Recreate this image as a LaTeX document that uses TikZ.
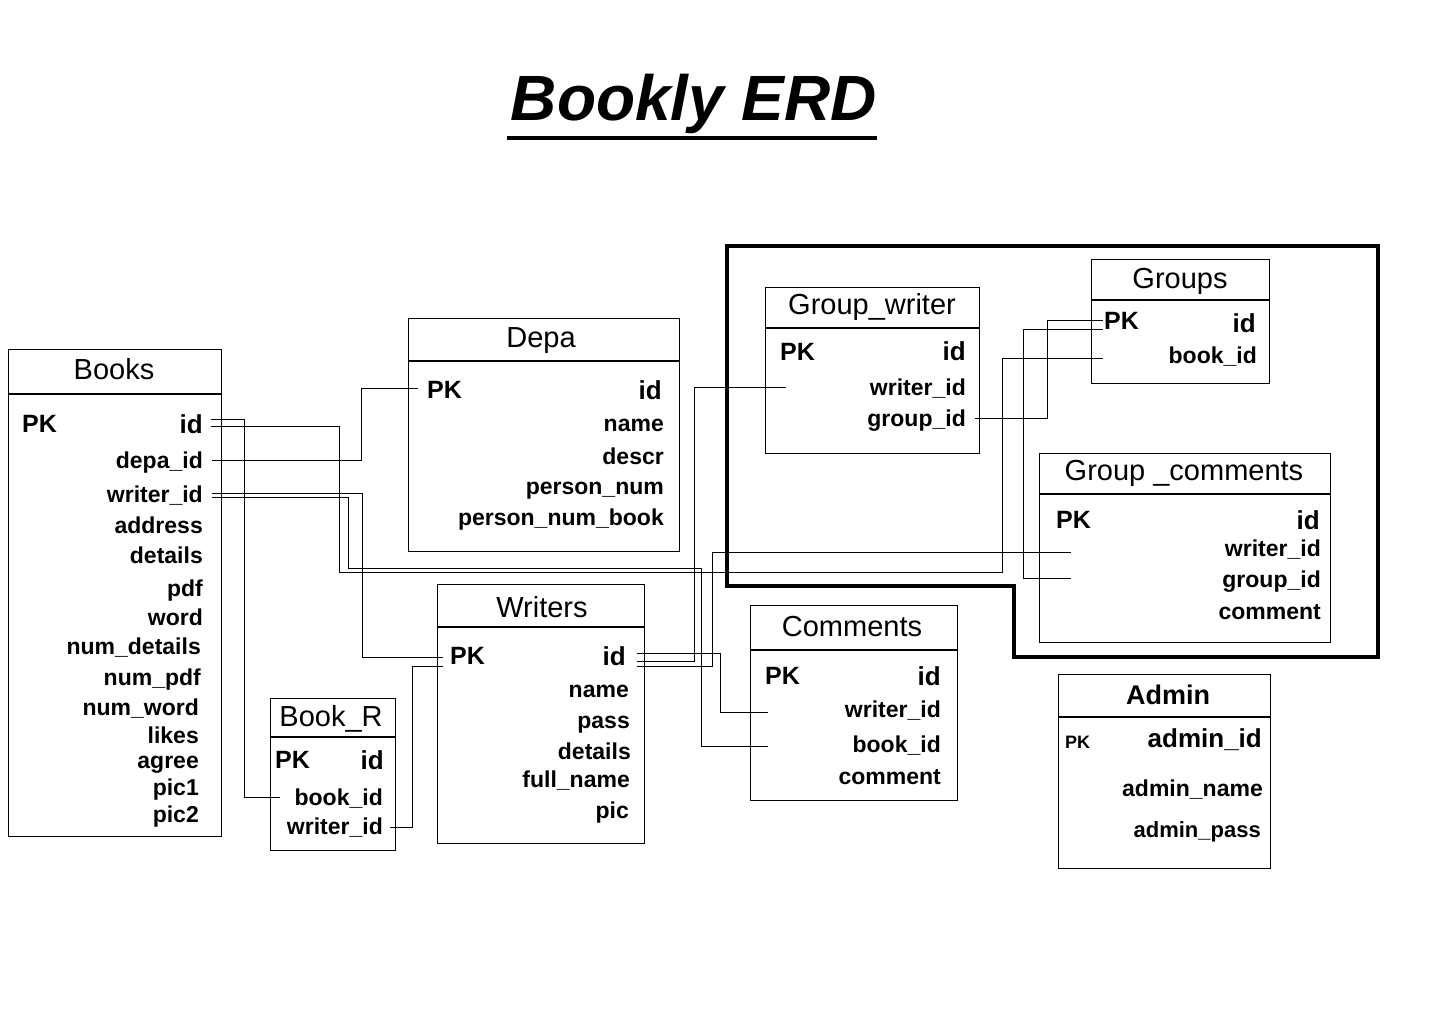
\documentclass[tikz,border=0pt]{standalone}
\usepackage{fontspec}
\setmainfont{Liberation Sans}
\begin{document}
\begin{tikzpicture}[x=1pt,y=-1pt,
	tbl/.style={draw,line width=1.2pt,inner sep=0pt,anchor=north west},
	ttl/.style={font=\fontsize{29}{32}\selectfont,inner sep=0pt,anchor=mid,yshift=-7pt},
	pkf/.style={font=\fontsize{25}{28}\selectfont\bfseries,anchor=mid west,inner sep=0pt,yshift=-5pt},
	idf/.style={font=\fontsize{26}{28}\selectfont\bfseries,anchor=mid east,inner sep=0pt,yshift=-5pt},
	fld/.style={font=\fontsize{23}{25}\selectfont\bfseries,anchor=mid east,inner sep=0pt,yshift=-5pt},
	link/.style={line width=1pt}]
	\fill[white] (0,0) rectangle (1440,1027);
	\useasboundingbox (0,0) rectangle (1440,1027);

	% title
	\node[inner sep=0pt,font=\fontsize{64}{70}\selectfont\bfseries\itshape] (title) at (694,104) {Bookly ERD};
	\draw[line width=4.5pt] (title.south west) ++(-4,4) -- ++(370,0);

	% Books
	\node[tbl,minimum width=213pt,minimum height=487pt] (books) at (8,349) {};
	\draw[line width=1.2pt] (books.north west) ++(0,45) -- ++(213,0);
	\node[ttl] (books-t) at (114,370) {Books};
	\node[pkf] (books-pk) at (22,425) {PK};
	\node[idf] (books-id) at (203,426) {id};
	\node[fld] (books-depa) at (203,461) {depa\_id};
	\node[fld] (books-writer) at (203,495) {writer\_id};
	\node[fld] (books-address) at (203,526) {address};
	\node[fld] (books-details) at (203,556) {details};
	\node[fld] (books-pdf) at (203,589) {pdf};
	\node[fld] (books-word) at (203,618) {word};
	\node[fld] (books-numdetails) at (201,647) {num\_details};
	\node[fld] (books-numpdf) at (201,678) {num\_pdf};
	\node[fld] (books-numword) at (199,708) {num\_word};
	\node[fld] (books-likes) at (199,736) {likes};
	\node[fld] (books-agree) at (199,761) {agree};
	\node[fld] (books-pic1) at (199,788) {pic1};
	\node[fld] (books-pic2) at (199,815) {pic2};

	% Depa
	\node[tbl,minimum width=271pt,minimum height=233pt] (depa) at (408,318) {};
	\draw[line width=1.2pt] (depa.north west) ++(0,43) -- ++(271,0);
	\node[ttl] (depa-t) at (541,338) {Depa};
	\node[pkf] (depa-pk) at (427,391) {PK};
	\node[idf] (depa-id) at (662,392) {id};
	\node[fld] (depa-name) at (664,424) {name};
	\node[fld] (depa-descr) at (664,457) {descr};
	\node[fld] (depa-pnum) at (664,487) {person\_num};
	\node[fld] (depa-pnumbook) at (664,518) {person\_num\_book};

	% Writers
	\node[tbl,minimum width=207pt,minimum height=259pt] (writers) at (437,584) {};
	\draw[line width=1.2pt] (writers.north west) ++(0,43) -- ++(207,0);
	\node[ttl] (writers-t) at (542,608) {Writers};
	\node[pkf] (writers-pk) at (450,657) {PK};
	\node[idf] (writers-id) at (626,658) {id};
	\node[fld] (writers-name) at (629,690) {name};
	\node[fld] (writers-pass) at (630,721) {pass};
	\node[fld] (writers-details) at (631,752) {details};
	\node[fld] (writers-fullname) at (630,780) {full\_name};
	\node[fld] (writers-pic) at (629,811) {pic};

	% Book_R
	\node[tbl,minimum width=125pt,minimum height=152pt] (bookr) at (270,698) {};
	\draw[line width=1.2pt] (bookr.north west) ++(0,39) -- ++(125,0);
	\node[ttl] (bookr-t) at (331,717) {Book\_R};
	\node[pkf] (bookr-pk) at (275,761) {PK};
	\node[idf] (bookr-id) at (384,762) {id};
	\node[fld] (bookr-book) at (383,798) {book\_id};
	\node[fld] (bookr-writer) at (383,827) {writer\_id};

	% Comments
	\node[tbl,minimum width=207pt,minimum height=195pt] (comments) at (750,605) {};
	\draw[line width=1.2pt] (comments.north west) ++(0,45) -- ++(207,0);
	\node[ttl] (comments-t) at (852,627) {Comments};
	\node[pkf] (comments-pk) at (765,677) {PK};
	\node[idf] (comments-id) at (941,678) {id};
	\node[fld] (comments-writer) at (941,710) {writer\_id};
	\node[fld] (comments-book) at (941,745) {book\_id};
	\node[fld] (comments-comment) at (941,777) {comment};

	% Group_writer
	\node[tbl,minimum width=214pt,minimum height=166pt] (gwriter) at (765,287) {};
	\draw[line width=1.2pt] (gwriter.north west) ++(0,41) -- ++(214,0);
	\node[ttl] (gwriter-t) at (872,305) {Group\_writer};
	\node[pkf] (gwriter-pk) at (780,353) {PK};
	\node[idf] (gwriter-id) at (966,353) {id};
	\node[fld] (gwriter-writer) at (966,388) {writer\_id};
	\node[fld] (gwriter-group) at (966,419) {group\_id};

	% Groups
	\node[tbl,minimum width=178pt,minimum height=124pt] (groups) at (1091,259) {};
	\draw[line width=1.2pt] (groups.north west) ++(0,41) -- ++(178,0);
	\node[ttl] (groups-t) at (1180,279) {Groups};
	\node[pkf] (groups-pk) at (1104,322) {PK};
	\node[idf] (groups-id) at (1256,325) {id};
	\node[fld] (groups-book) at (1257,356) {book\_id};

	% Group_comments
	\node[tbl,minimum width=291pt,minimum height=189pt] (gcomments) at (1039,453) {};
	\draw[line width=1.2pt] (gcomments.north west) ++(0,41) -- ++(291,0);
	\node[ttl] (gcomments-t) at (1184,471) {Group \_comments};
	\node[pkf] (gcomments-pk) at (1056,521) {PK};
	\node[idf] (gcomments-id) at (1320,522) {id};
	\node[fld] (gcomments-writer) at (1321,549) {writer\_id};
	\node[fld] (gcomments-group) at (1321,580) {group\_id};
	\node[fld] (gcomments-comment) at (1321,612) {comment};

	% Admin
	\node[tbl,minimum width=212pt,minimum height=194pt] (admin) at (1058,674) {};
	\draw[line width=1.2pt] (admin.north west) ++(0,43) -- ++(212,0);
	\node[ttl,font=\fontsize{27}{30}\selectfont\bfseries] (admin-t) at (1168,695) {Admin};
	\node[pkf,font=\fontsize{18}{20}\selectfont\bfseries] (admin-pk) at (1065,741) {PK};
	\node[idf] (admin-id) at (1262,740) {admin\_id};
	\node[fld,font=\fontsize{23}{25}\selectfont\bfseries] (admin-name) at (1263,789) {admin\_name};
	\node[fld,font=\fontsize{22}{24}\selectfont\bfseries] (admin-pass) at (1261,830) {admin\_pass};

	% group frame
	\draw[line width=4.5pt] (727,246) -- (1378,246) -- (1378,657) -- (1014,657) -- (1014,586) -- (727,586) -- cycle;

	% link ends
	\coordinate (a-books-id1) at (211,419);
	\coordinate (a-books-id2) at (211,426);
	\coordinate (a-books-depa) at (212,460);
	\coordinate (a-books-wr1) at (212,493);
	\coordinate (a-books-wr2) at (212,497);
	\coordinate (a-bookr-book) at (280,797);
	\coordinate (a-bookr-wr) at (390,827);
	\coordinate (a-depa-pk) at (418,388);
	\coordinate (a-writers-pk1) at (443,657);
	\coordinate (a-writers-pk2) at (443,666);
	\coordinate (a-writers-id1) at (637,653);
	\coordinate (a-writers-id2) at (637,661);
	\coordinate (a-writers-id3) at (637,666);
	\coordinate (a-comments-wr) at (768,712);
	\coordinate (a-comments-book) at (768,746);
	\coordinate (a-gwriter-wr) at (786,387);
	\coordinate (a-gwriter-gr) at (975,418);
	\coordinate (a-groups-pk1) at (1103,320);
	\coordinate (a-groups-pk2) at (1103,329);
	\coordinate (a-groups-book) at (1103,358);
	\coordinate (a-gcomments-wr) at (1071,552);
	\coordinate (a-gcomments-gr) at (1071,578);

	% links
	\draw[link] (a-books-id1) -- ++(33,0) |- (a-bookr-book);
	\draw[link] (a-books-id2) -| (339,572) -| (1002,358) -- (a-groups-book);
	\draw[link] (a-books-depa) -| (361,388) -- (a-depa-pk);
	\draw[link] (a-books-wr1) -| (362,657) -- (a-writers-pk1);
	\draw[link] (a-books-wr2) -| (348,568) -| (701,746) -- (a-comments-book);
	\draw[link] (a-bookr-wr) -| (412,666) -- (a-writers-pk2);
	\draw[link] (a-writers-id1) -| (720,712) -- (a-comments-wr);
	\draw[link] (a-writers-id2) -| (694,387) -- (a-gwriter-wr);
	\draw[link] (a-writers-id3) -| (712,552) -- (a-gcomments-wr);
	\draw[link] (a-gwriter-gr) -| (1047,320) -- (a-groups-pk1);
	\draw[link] (a-groups-pk2) -| (1023,578) -- (a-gcomments-gr);
\end{tikzpicture}
\end{document}
